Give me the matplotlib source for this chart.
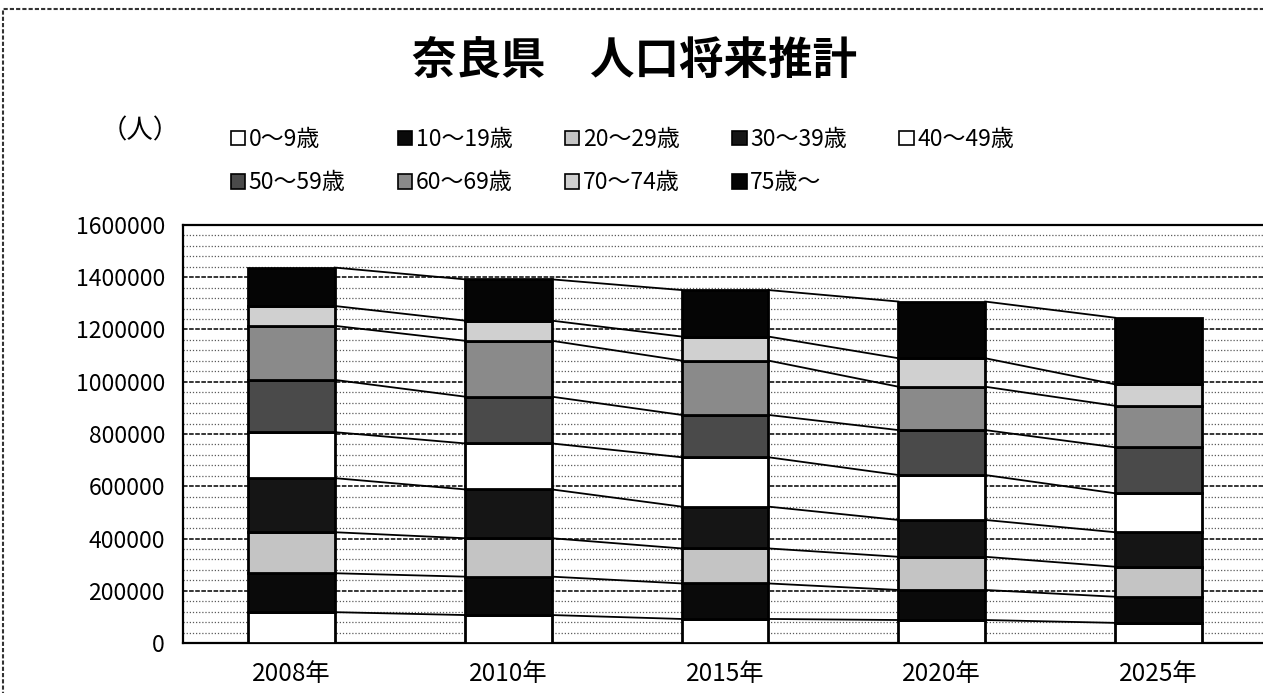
import matplotlib
matplotlib.use('Agg')
import matplotlib.pyplot as plt
from matplotlib.patches import Patch, Rectangle
import numpy as np

plt.rcParams['font.family'] = ['Noto Sans CJK JP', 'DejaVu Sans']

years = ['2008年', '2010年', '2015年', '2020年', '2025年']
age_groups = ['0～9歳', '10～19歳', '20～29歳', '30～39歳', '40～49歳',
              '50～59歳', '60～69歳', '70～74歳', '75歳～']

# population by age group, one list per group (2008, 2010, 2015, 2020, 2025)
age_0_9 = [118000, 107000, 92000, 88000, 77000]
age_10_19 = [149000, 147000, 136000, 115000, 100000]
age_20_29 = [157000, 147000, 134000, 127000, 115000]
age_30_39 = [207000, 187000, 160000, 141000, 132000]
age_40_49 = [176000, 176000, 189000, 172000, 149000]
age_50_59 = [200000, 179000, 162000, 172000, 176000]
age_60_69 = [207000, 214000, 208000, 166000, 159000]
age_70_74 = [76000, 77000, 92000, 109000, 82000]
age_75_up = [147000, 158000, 178000, 217000, 255000]

series = [age_0_9, age_10_19, age_20_29, age_30_39, age_40_49,
          age_50_59, age_60_69, age_70_74, age_75_up]
fills = ['white', '#0a0a0a', '#c4c4c4', '#151515', 'white',
         '#4a4a4a', '#8a8a8a', '#d0d0d0', '#050505']

fig = plt.figure(figsize=(12.63, 6.93), dpi=100)
ax = fig.add_axes([183 / 1263, 50 / 693, 1084 / 1263, 418 / 693])

x = np.arange(len(years))
w = 0.4
bottom = np.zeros(len(years))
tops = []
for vals, fc in zip(series, fills):
    ax.bar(x, vals, w, bottom=bottom, color=fc, edgecolor='black',
           linewidth=2, zorder=3)
    bottom = bottom + np.array(vals)
    tops.append(bottom.copy())

# series lines between neighbouring bars
for level in tops:
    for i in range(len(years) - 1):
        ax.plot([x[i] + w / 2, x[i + 1] - w / 2], [level[i], level[i + 1]],
                color='black', linewidth=1.3, zorder=2)

# grey plot area shows up as fine dotted rows
for yv in np.arange(40000, 1600000, 40000):
    if yv % 200000 == 0:
        ax.axhline(yv, color='black', linewidth=1.1, linestyle=(0, (3, 1)), zorder=1)
    else:
        ax.axhline(yv, color='#5a5a5a', linewidth=0.9, linestyle=(0, (1, 1.5)), zorder=1)

ax.set_xlim(-0.5, len(years) - 0.5)
ax.set_ylim(0, 1600000)
ax.set_yticks(np.arange(0, 1600001, 200000))
ax.set_yticklabels([str(v) for v in range(0, 1600001, 200000)], fontsize=16.5)
ax.set_xticks(x)
ax.set_xticklabels(years, fontsize=17.5)
ax.tick_params(axis='x', length=0, pad=13)
ax.tick_params(axis='y', length=0, pad=13)
for s in ax.spines.values():
    s.set_linewidth(1.6)

fig.text(635 / 1263, 1 - 62 / 693, '奈良県　人口将来推計', ha='center', va='center',
         fontsize=32, fontweight='bold')
fig.text(140 / 1263, 1 - 131 / 693, '（人）', ha='center', va='center', fontsize=19)

handles = [Patch(facecolor=fc, edgecolor='black', linewidth=1.2) for fc in fills]
order = [0, 5, 1, 6, 2, 7, 3, 8, 4]
fig.legend([handles[i] for i in order], [age_groups[i] for i in order],
           loc='upper left', bbox_to_anchor=(231 / 1263, 1 - 128 / 693), ncol=5,
           frameon=False, fontsize=16.5, handlelength=0.62, handleheight=0.62,
           handletextpad=0.15, columnspacing=2.3, labelspacing=0.88,
           borderaxespad=0, borderpad=0)

# outer chart frame
fig.add_artist(Rectangle((3 / 1263, -0.1), 1.2, 1 - 9 / 693 + 0.1, transform=fig.transFigure,
                         fill=False, edgecolor='#333333', linewidth=1.5, linestyle=(0, (2, 1))))

fig.savefig('out.png', dpi=100)
